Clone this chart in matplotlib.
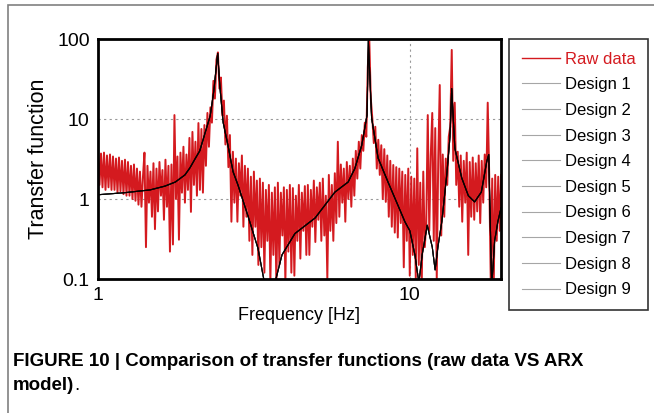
import numpy as np
import matplotlib
matplotlib.use('Agg')
import matplotlib.pyplot as plt
from matplotlib.patches import Rectangle

plt.rcParams['font.family'] = ['Liberation Sans', 'DejaVu Sans']

# raw spectrum (log spaced bins from 1 Hz to 19.6 Hz)
raw_mag = [
    3.9, 1.5, 3.7, 1.4, 3.8, 1.3, 3.5, 1.4, 3.6, 1.3,
    3.4, 1.3, 3.2, 1.2, 3.3, 1.25, 3.0, 1.15, 3.1, 1.1,
    2.9, 1.1, 2.6, 1.0, 2.7, 0.95, 2.4, 0.85, 2.2, 0.8,
    1.9, 3.8, 0.25, 2.6, 0.9, 2.2, 0.6, 2.8, 0.42, 2.4,
    0.7, 2.9, 1.1, 2.3, 0.55, 3.1, 0.8, 2.6, 0.22, 2.7,
    0.27, 11.2, 1.0, 3.4, 0.31, 3.8, 1.2, 4.5, 0.9, 3.6,
    1.3, 5.8, 0.69, 6.9, 1.5, 5.2, 1.1, 8.9, 1.3, 7.5,
    1.2, 8.4, 2.6, 11.9, 4.5, 14, 9, 30, 18, 55,
    68, 24, 33, 11, 17, 4.8, 11, 2.5, 6.3, 0.52,
    3.9, 0.9, 3.2, 0.52, 2.8, 1.1, 3.5, 0.45, 2.6, 0.6,
    2.4, 0.3, 1.9, 0.2, 2.2, 0.45, 1.7, 0.15, 1.8, 0.25,
    1.6, 0.12, 1.3, 0.3, 1.5, 0.09, 1.2, 0.2, 1.4, 0.08,
    1.6, 0.15, 1.2, 0.35, 1.4, 0.09, 1.3, 0.22, 1.5, 0.12,
    1.37, 0.11, 1.1, 0.3, 1.5, 0.18, 1.2, 0.4, 1.45, 0.2,
    1.5, 0.2, 1.3, 0.45, 1.7, 0.29, 1.4, 0.55, 1.6, 0.3,
    1.8, 0.35, 1.1, 0.1, 2.0, 0.4, 1.5, 0.3, 2.1, 0.5,
    5.2, 0.6, 2.7, 0.9, 2.4, 0.52, 2.9, 1.0, 2.6, 0.8,
    3.2, 1.1, 4.0, 1.8, 5.2, 2.4, 6.3, 4.0, 9, 6,
    45, 98, 18, 10.3, 5, 8, 2.4, 5.5, 2.0, 4.7,
    1.0, 4.2, 0.92, 3.5, 0.6, 3.0, 0.45, 2.66, 0.38, 2.5,
    0.33, 2.4, 0.5, 2.2, 0.14, 2.0, 0.3, 2.4, 0.11, 1.9,
    0.2, 1.8, 0.1, 4.3, 0.15, 1.6, 0.09, 2.2, 0.25, 0.5,
    11.2, 0.4, 3.5, 11.9, 0.3, 7.7, 0.1, 3.2, 26.6, 0.35,
    3.6, 0.6, 3.2, 1.5, 6, 8, 73, 3.0, 16, 1.5,
    3.9, 0.8, 3.5, 0.52, 3.0, 0.9, 3.8, 0.2, 2.9, 0.6,
    3.3, 0.55, 2.8, 0.7, 3.5, 0.5, 3.0, 0.9, 3.6, 1.4,
    16, 2.0, 0.1, 1.8, 0.08, 2.0, 0.3, 1.9, 0.4, 2.0,
]
raw_fmin, raw_fmax = 1.0, 19.63

# ARX model response (all nine designs lie on top of each other)
design_freq = [1.00, 1.22, 1.47, 1.64, 1.77, 1.90, 1.97, 2.05, 2.12, 2.20,
               2.29, 2.35, 2.42, 2.46, 2.52, 2.61, 2.71, 2.81, 3.02, 3.26,
               3.40, 3.55, 3.72, 3.89, 4.28, 4.97, 5.75, 6.34, 6.66, 7.01,
               7.29, 7.36, 7.54, 7.91, 8.51, 9.15, 9.64, 10.0, 10.38, 10.69,
               10.95, 11.37, 11.80, 12.05, 12.3, 12.66, 13.13, 13.45, 13.62, 13.94,
               14.67, 15.4, 16.13, 16.95, 17.63, 17.9, 18.3, 18.7, 19.15, 19.6]
design_mag = [1.13, 1.2, 1.30, 1.45, 1.63, 2.0, 2.44, 3.2, 4.0, 6.5,
              11, 22, 66, 25, 9, 4.7, 2.2, 1.5, 0.63, 0.24,
              0.1, 0.03, 0.1, 0.2, 0.37, 0.58, 1.22, 1.63, 2.4, 4.7,
              11.2, 95, 10.3, 3.25, 1.63, 0.84, 0.52, 0.40, 0.2, 0.09,
              0.2, 0.47, 0.25, 0.13, 0.25, 0.52, 2.0, 6, 24, 4.3,
              1.83, 1.1, 0.92, 1.22, 2.9, 3.6, 0.08, 0.3, 0.52, 0.77]
design_names = ['Design %d' % k for k in range(1, 10)]

RED = '#d41a1f'

fig = plt.figure(figsize=(6.54, 4.13), dpi=100)
ax = fig.add_axes([98/654, 1 - 279/413, 403/654, 240/413])

raw_freq = np.geomspace(raw_fmin, raw_fmax, len(raw_mag))
ax.plot(raw_freq, raw_mag, color=RED, lw=1.4, label='Raw data')
for name in design_names:
    ax.plot(design_freq, design_mag, color='black', lw=0.8, alpha=0.35, label=name)

ax.set_xscale('log')
ax.set_yscale('log')
ax.set_xlim(1, 19.6)
ax.set_ylim(0.1, 100)
ax.set_xticks([1, 10])
ax.set_xticklabels(['1', '10'])
ax.set_yticks([0.1, 1, 10, 100])
ax.set_yticklabels(['0.1', '1', '10', '100'])
ax.minorticks_off()
ax.tick_params(length=0, labelsize=14, pad=6)
ax.grid(True, which='major', color='0.6', linestyle=(0, (2, 3)), lw=0.8)
for s in ax.spines.values():
    s.set_linewidth(2)
ax.set_xlabel('Frequency [Hz]', fontsize=13, labelpad=2)
ax.set_ylabel('Transfer function', fontsize=15.5, labelpad=6)

leg = fig.legend(loc='upper left', bbox_to_anchor=(509/654, 1 - 39/413),
                 fontsize=12, frameon=True, fancybox=False, edgecolor='black',
                 handlelength=2.3, handletextpad=0.3, labelspacing=0.64,
                 borderpad=0.75, borderaxespad=0)
leg.get_frame().set_linewidth(1.2)
leg.get_texts()[0].set_color(RED)
leg.get_lines()[0].set_linewidth(1.0)

# page frame of the journal figure
fig.patches.append(Rectangle((8/654, -0.1), 1.2, 1.1 - 5/413, transform=fig.transFigure,
                             fill=False, edgecolor='0.5', lw=1.2))

cap1 = fig.text(13/654, 1 - 362/413, 'FIGURE 10 | Comparison of transfer functions (raw data VS ARX',
                fontsize=13.5, fontweight='bold', va='center')
cap2 = fig.text(13/654, 1 - 386/413, 'model)', fontsize=13.5, fontweight='bold', va='center')
ax.annotate('.', xy=(1, 0), xycoords=cap2, fontsize=13.5, va='bottom')

fig.savefig('out.png', dpi=100)
